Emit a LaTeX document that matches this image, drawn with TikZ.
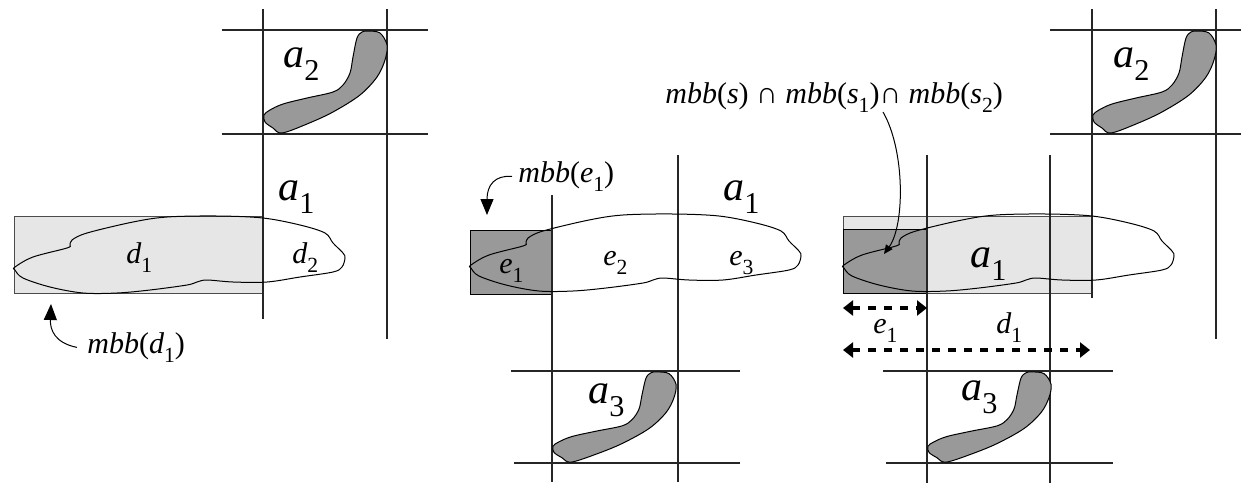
\documentclass[tikz,border=0pt]{standalone}
\usepackage{fontspec}
\setmainfont{Liberation Serif}
\usetikzlibrary{arrows.meta}
\definecolor{lightgraybox}{HTML}{E6E6E6}
\definecolor{darkgraybox}{HTML}{999999}
\newcommand{\lowsub}[1]{\raisebox{-0.32em}{\scalebox{0.72}{\upshape #1}}}
\tikzset{
  gridline/.style={black!85, line width=0.6pt},
  outline/.style={black, line width=0.5pt},
  lightbox/.style={draw=black!70, line width=0.5pt, fill=lightgraybox},
  darkbox/.style={draw=black, line width=0.5pt, fill=darkgraybox},
  biglbl/.style={anchor=base west, inner sep=0pt, font=\fontsize{21}{24}\selectfont\itshape},
  smalllbl/.style={anchor=base west, inner sep=0pt, font=\fontsize{15}{18}\selectfont},
  pointer/.style={line width=0.5pt, -{Triangle[length=8pt,width=6.5pt]}},
  smallpointer/.style={line width=0.5pt, -{Triangle[length=4.5pt,width=4pt]}},
  spanarr/.style={line width=2pt, dash pattern=on 4pt off 4pt,
                  {Triangle[length=5pt,width=7.5pt]}-{Triangle[length=5pt,width=7.5pt]}},
  extent/.pic={
    \draw[outline] plot[smooth cycle, tension=0.55] coordinates {
      (0,0) (18,-10) (52,-19) (55,-22) (57,-27) (72,-34) (118,-45) (152,-50)
      (202,-51) (248,-49) (285,-42) (310,-34) (318,-24) (328,-14) (330,-9)
      (327,0) (318,5) (285,10) (252,15) (218,15) (192,13) (182,15) (172,18)
      (135,23) (102,26) (68,26) (35,20) (8,11) (0,3)};
  },
  region/.pic={
    \filldraw[outline, fill=darkgraybox] plot[smooth cycle, tension=0.55] coordinates {
      (105,1) (117,3) (124,15) (122,30) (114,47) (97,65) (70,82) (44,94)
      (19,103) (10,98) (2,92) (1,85) (7,80) (20,74) (44,68) (70,62)
      (80,55) (87,43) (90,27) (94,8) (99,2)};
  },
}

\begin{document}
\begin{tikzpicture}[x=0.5pt, y=-0.5pt]
  \useasboundingbox (0,0) rectangle (1241,483);

  %% Left panel: mbb of d1
  \draw[lightbox] (14,216) rectangle (263,293);
  \foreach \x/\ya/\yb in {263/9/319, 387/9/339}
    \draw[gridline] (\x,\ya) -- (\x,\yb);
  \foreach \y in {30,134}
    \draw[gridline] (222,\y) -- (428,\y);
  \pic at (15,267) {extent};
  \pic at (263,30) {region};
  \node[biglbl] (lA2) at (283,67) {a\lowsub{2}};
  \node[biglbl] (lA1) at (278,200) {a\lowsub{1}};
  \node[smalllbl] (lD1) at (126,263) {\textit{d}\lowsub{1}};
  \node[smalllbl] (lD2) at (292,263) {\textit{d}\lowsub{2}};
  \node[smalllbl] (mbbD) at (87,353) {\textit{mbb}(\textit{d}\lowsub{1})};
  \coordinate (tipD) at (51,304);
  \draw[pointer] ([xshift=-5pt]mbbD.west) .. controls (55,343) and (50,330) .. (tipD);

  %% Middle panel: mbb of e1
  \draw[darkbox] (470,230) rectangle (552,294);
  \foreach \x/\ya/\yb in {552/195/482, 678/155/482}
    \draw[gridline] (\x,\ya) -- (\x,\yb);
  \draw[gridline] (511,371) -- (740,371);
  \draw[gridline] (514,463) -- (740,463);
  \pic at (471,265) {extent};
  \pic[yscale=0.885] at (552,371) {region};
  \node[smalllbl] (lE1) at (499,273) {\textit{e}\lowsub{1}};
  \node[smalllbl] (lE2) at (603,265) {\textit{e}\lowsub{2}};
  \node[smalllbl] (lE3) at (729,265) {\textit{e}\lowsub{3}};
  \node[biglbl] (mA1) at (723,200) {a\lowsub{1}};
  \node[biglbl] (mA3) at (588,403) {a\lowsub{3}};
  \node[smalllbl] (mbbE) at (518,182) {\textit{mbb}(\textit{e}\lowsub{1})};
  \coordinate (tipE) at (487,215);
  \draw[pointer] ([xshift=-3pt]mbbE.west) .. controls (495,175) and (487,185) .. (tipE);

  %% Right panel: intersection of the three boxes
  \draw[lightbox] (843,216) rectangle (1092,293);
  \draw[darkbox] (843,229) rectangle (927,293);
  \foreach \x/\ya/\yb in {1092/9/298, 1216/9/339, 927/155/483, 1050/155/483}
    \draw[gridline] (\x,\ya) -- (\x,\yb);
  \foreach \y in {30,134}
    \draw[gridline] (1050,\y) -- (1241,\y);
  \draw[gridline] (883,371) -- (1113,371);
  \draw[gridline] (886,463) -- (1113,463);
  \pic at (844,265) {extent};
  \pic at (1092,30) {region};
  \pic[yscale=0.885] at (927,371) {region};
  \node[biglbl] (rA2) at (1113,67) {a\lowsub{2}};
  \node[biglbl] (rA1) at (970,267) {a\lowsub{1}};
  \node[biglbl] (rA3) at (961,400) {a\lowsub{3}};
  \node[smalllbl] (rE1) at (873,333) {\textit{e}\lowsub{1}};
  \node[smalllbl] (rD1) at (996,333) {\textit{d}\lowsub{1}};
  \coordinate (eL) at (843,308);
  \coordinate (eR) at (927,308);
  \coordinate (dL) at (843,350);
  \coordinate (dR) at (1090,350);
  \draw[spanarr] (eL) -- (eR);
  \draw[spanarr] (dL) -- (dR);
  \node[smalllbl] (mbbS) at (665,103)
    {\textit{mbb}(\textit{s}) ∩ \textit{mbb}(\textit{s}\lowsub{1})∩ \textit{mbb}(\textit{s}\lowsub{2})};
  \coordinate (capS) at (883,112);
  \coordinate (tipS) at (884,254);
  \draw[smallpointer] (capS) .. controls (905,150) and (905,225) .. (tipS);

\end{tikzpicture}
\end{document}
